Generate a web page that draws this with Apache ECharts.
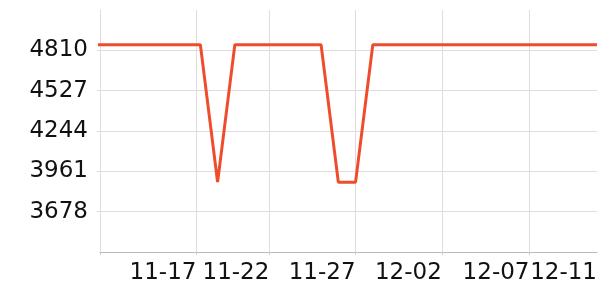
<!DOCTYPE html>
<html><head><meta charset="utf-8">
<script src="https://cdn.jsdelivr.net/npm/echarts@6/dist/echarts.min.js"></script>
<style>html,body{margin:0;padding:0;background:#fff;overflow:hidden}#c{width:600px;height:300px}</style>
</head><body><div id="c"></div>
<script>
const dates = ['2023-11-12','2023-11-13','2023-11-14','2023-11-15','2023-11-16','2023-11-17','2023-11-18',
  '2023-11-19','2023-11-20','2023-11-21','2023-11-22','2023-11-23','2023-11-24','2023-11-25','2023-11-26',
  '2023-11-27','2023-11-28','2023-11-29','2023-11-30','2023-12-01','2023-12-02','2023-12-03','2023-12-04',
  '2023-12-05','2023-12-06','2023-12-07','2023-12-08','2023-12-09','2023-12-10','2023-12-11'];
const values = [4850,4850,4850,4850,4850,4850,4850,
  3885,4850,4850,4850,4850,4850,4850,3885,
  3885,4850,4850,4850,4850,4850,4850,4850,
  4850,4850,4850,4850,4850,4850,4850];
const xTickDates = ['2023-11-12T04:20:00','2023-11-17T18:30:00','2023-11-22T00:00:00','2023-11-27T00:00:00',
  '2023-12-02T00:00:00','2023-12-07T02:00:00'];
const xLabelDates = ['2023-11-17T18:30:00','2023-11-22T00:00:00','2023-11-27T00:00:00',
  '2023-12-02T00:00:00','2023-12-07T02:00:00','2023-12-11T00:00:00'];
const xTickLabels = ['11-17','11-22','11-27','12-02','12-07','12-11'];
const xMin = '2023-11-12T04:20:00';
const xMax = '2023-12-11T00:00:00';
const yMin = 3395, yMax = 5093, yInterval = 283;

const tickTimes = xTickDates.map(d => new Date(d).getTime());
const labelTimes = xLabelDates.map(d => new Date(d).getTime());
const chart = echarts.init(document.getElementById('c'));
chart.setOption({
  animation: false,
  grid: {left: 100, right: 0, top: 10, bottom: 48, containLabel: false},
  xAxis: {
    type: 'value',
    min: new Date(xMin).getTime(),
    max: new Date(xMax).getTime(),
    axisLine: {show: true, lineStyle: {color: '#bbb', width: 1}},
    axisTick: {show: true, length: 3, lineStyle: {color: '#ccc'}, customValues: tickTimes},
    axisLabel: {
      customValues: labelTimes,
      align: 'right',
      margin: 10,
      fontSize: 23,
      fontFamily: 'DejaVu Sans',
      color: '#111',
      hideOverlap: false,
      showMinLabel: true, showMaxLabel: true,
      formatter: function (v) {
        let best = 0, bd = Infinity;
        labelTimes.forEach((t, i) => { const d = Math.abs(t - v); if (d < bd) { bd = d; best = i; } });
        return xTickLabels[best];
      }
    },
    splitLine: {show: true, showMinLine: false, lineStyle: {color: '#ddd', width: 1}}
  },
  yAxis: {
    type: 'value',
    min: yMin, max: yMax, interval: yInterval,
    axisLine: {show: true, lineStyle: {color: '#ddd', width: 1}},
    axisTick: {show: true, length: 3, lineStyle: {color: '#ddd'}},
    axisLabel: {
      margin: 12, fontSize: 23, fontFamily: 'DejaVu Sans', color: '#111',
      showMinLabel: false, showMaxLabel: false,
      formatter: v => String(v)
    },
    splitLine: {show: true, showMinLine: false, showMaxLine: false, lineStyle: {color: '#ddd', width: 1}}
  },
  series: [{
    type: 'line',
    data: dates.map((d, i) => [new Date(d).getTime(), values[i]]),
    showSymbol: false,
    symbol: 'none',
    clip: true,
    lineStyle: {color: '#ee4c2c', width: 3},
    itemStyle: {color: '#ee4c2c'}
  }]
});
</script></body></html>
